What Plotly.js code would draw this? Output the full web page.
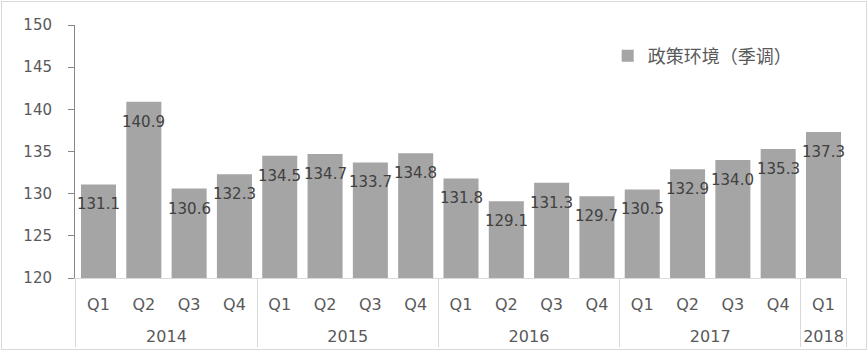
<!DOCTYPE html>
<html>
<head>
<meta charset="utf-8">
<script src="https://cdn.plot.ly/plotly-3.0.1.min.js"></script>
<style>
html,body{margin:0;padding:0;background:#fff;}
#wrap{position:relative;width:868px;height:351px;}
#chart{width:868px;height:351px;}
#frame{position:absolute;left:1px;top:1px;width:864px;height:347px;border:1px solid #d9d9d9;pointer-events:none;}
</style>
</head>
<body>
<div id="wrap"><div id="chart"></div><div id="frame"></div></div>
<script>
const years = ["2014","2014","2014","2014","2015","2015","2015","2015","2016","2016","2016","2016","2017","2017","2017","2017","2018"];
const quarters = ["Q1","Q2","Q3","Q4","Q1","Q2","Q3","Q4","Q1","Q2","Q3","Q4","Q1","Q2","Q3","Q4","Q1"];
const values = [131.1,140.9,130.6,132.3,134.5,134.7,133.7,134.8,131.8,129.1,131.3,129.7,130.5,132.9,134.0,135.3,137.3];
const seriesName = "政策环境（季调）";
const yTicks = [120,125,130,135,140,145,150];

// quarter labels get an empty second line so the year row sits lower, as in the reference
const quarterLabels = quarters.map(q => q + '<br><span style="font-size:24px">\u00a0</span>');

const annotations = values.map((v,i)=>({
  x:[years[i],quarterLabels[i]], y:v, xref:'x', yref:'y',
  text: v.toFixed(1), showarrow:false, yanchor:'middle', yshift:-20,
  font:{family:'DejaVu Sans, sans-serif', size:15, color:'#404040'}
}));

const trace = {
  type:'bar', x:[years, quarterLabels], y:values, name:seriesName,
  marker:{color:'#a5a5a5'}, showlegend:true
};

const layout = {
  width:868, height:351,
  margin:{l:75, r:21, t:25, b:73},
  paper_bgcolor:'#fff', plot_bgcolor:'#fff',
  bargap:0.227,
  showlegend:true,
  legend:{x:0.69, y:0.95, xanchor:'left', yanchor:'top', bgcolor:'rgba(0,0,0,0)',
    font:{family:'Noto Sans CJK SC, sans-serif', size:18, color:'#595959'}},
  xaxis:{type:'multicategory', showline:true, linecolor:'#d9d9d9', linewidth:1,
    showdividers:true, dividercolor:'#d9d9d9', dividerwidth:1,
    ticks:'', ticklabelstandoff:12,
    tickfont:{family:'DejaVu Sans, sans-serif', size:16, color:'#595959'},
    showgrid:false, zeroline:false},
  yaxis:{range:[120,150], tickvals:yTicks, ticktext:yTicks.map(String),
    showline:true, linecolor:'#868686', linewidth:1, ticks:'outside', ticklen:6, tickcolor:'#868686',
    ticklabelstandoff:13,
    showgrid:false, zeroline:false,
    tickfont:{family:'DejaVu Sans, sans-serif', size:15, color:'#595959'}},
  annotations: annotations
};
Plotly.newPlot('chart',[trace],layout,{displayModeBar:false, staticPlot:true});
</script>
</body>
</html>
